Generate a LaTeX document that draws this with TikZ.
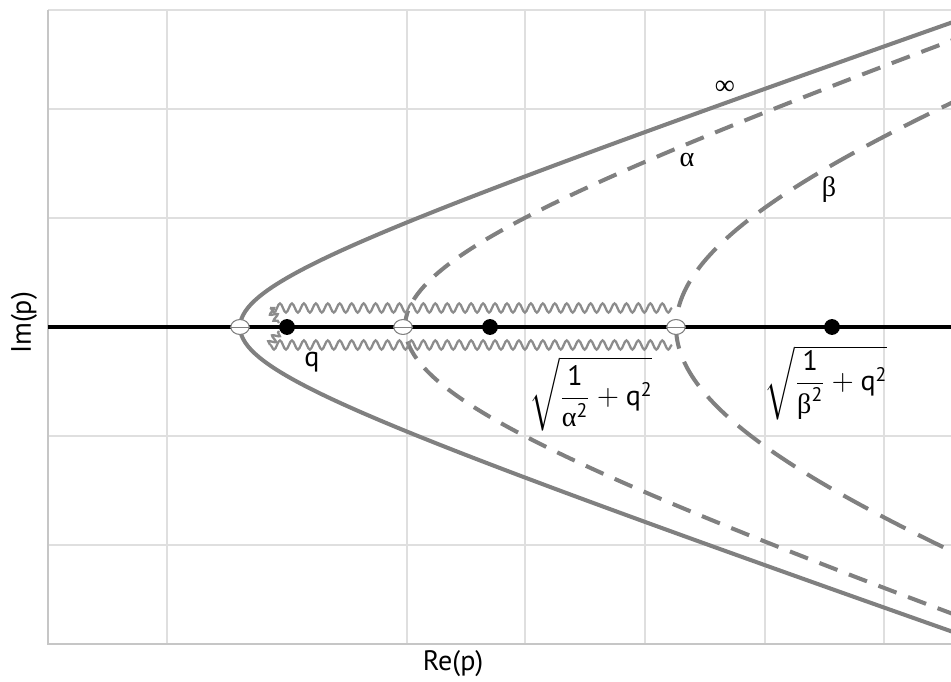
\documentclass[tikz,border=0pt]{standalone}
\usepackage{amsmath}
\usepackage{fontspec}
\setmainfont{PT Sans}
\newfontfamily\grk{Liberation Serif}
\usetikzlibrary{decorations.pathmorphing,shapes.geometric}

\begin{document}
\begin{tikzpicture}[x=0.02cm,y=-0.02cm,
  gridline/.style={gray!25,line width=.6pt},
  curve/.style={gray,line width=2.3pt},
  dashA/.style={curve,dash pattern=on 11pt off 7pt},
  dashB/.style={curve,dash pattern=on 16pt off 8pt},
  cut/.style={gray!90,line width=1.3pt,decorate,
    decoration={snake,segment length=6.8pt,amplitude=2.6pt}},
  pole/.style={circle,fill=black,inner sep=0pt,minimum size=9pt},
  branchpt/.style={ellipse,draw=gray,fill=white,line width=.6pt,inner sep=0pt,
    minimum width=10.5pt,minimum height=8.5pt},
  lbl/.style={font=\fontsize{16}{18}\selectfont,inner sep=0pt}]
  \useasboundingbox (0,0) rectangle (951,682);

  % grid
  \foreach \gx in {167,407,525,645,765,884}
    \draw[gridline] (\gx,10) -- (\gx,644);
  \foreach \gy in {10,109,218,436,545}
    \draw[gridline] (48,\gy) -- (951,\gy);
  \draw[gray!45,line width=.8pt] (48,10) -- (48,644) -- (951,644);

  % contours
  \begin{scope}
    \clip (48,10) rectangle (951,644);
    \draw[curve] plot[domain=-2.26:2.26,samples=90,smooth,variable=\t]
      ({48+192*cosh(\t)},{327-66.2*sinh(\t)});
    \draw[dashA] plot[domain=-1.62:1.62,samples=80,smooth,variable=\t]
      ({48+357*cosh(\t)},{327-123.2*sinh(\t)});
    \draw[dashB] plot[domain=-0.95:0.95,samples=60,smooth,variable=\t]
      ({48+628*cosh(\t)},{327-216.7*sinh(\t)});
  \end{scope}

  % real axis and branch cuts
  \draw[black,line width=2.3pt] (48,327) -- (951,327);
  \draw[cut] (672,308) -- (270,308);
  \draw[cut] (672,345) -- (270,345);
  \draw[cut,decoration={segment length=4pt,amplitude=2pt}] (270,308) -- (279,323);
  \draw[cut,decoration={segment length=4pt,amplitude=2pt}] (270,345) -- (279,331);

  \node[branchpt] (b0) at (240,327) {};
  \node[branchpt] (ba) at (403,327) {};
  \node[branchpt] (bb) at (676,327) {};
  \draw[gray,line width=.5pt] (b0.west) -- (b0.east) (ba.west) -- (ba.east) (bb.west) -- (bb.east);
  \node[pole] (pq) at (287,327) {};
  \node[pole] (pa) at (490,327) {};
  \node[pole] (pb) at (832,327) {};

  % labels
  \node[lbl] (linf) at (725,88) {\grk ∞};
  \node[lbl] (lal) at (687,160) {\grk α};
  \node[lbl] (lbe) at (829,190) {\grk β};
  \node[lbl] (lq) at (312,362) {q};
  \node[lbl] (sqa) at (591,394)
    {$\sqrt{\dfrac{\text{1}}{\text{\grk α}^{\text{2}}}+\text{q}^{\text{2}}}$};
  \node[lbl] (sqb) at (826,383)
    {$\sqrt{\dfrac{\text{1}}{\text{\grk β}^{\text{2}}}+\text{q}^{\text{2}}}$};
  \node[lbl] (re) at (453,664) {Re(p)};
  \node[lbl,rotate=90] (im) at (24,323) {Im(p)};
\end{tikzpicture}
\end{document}
